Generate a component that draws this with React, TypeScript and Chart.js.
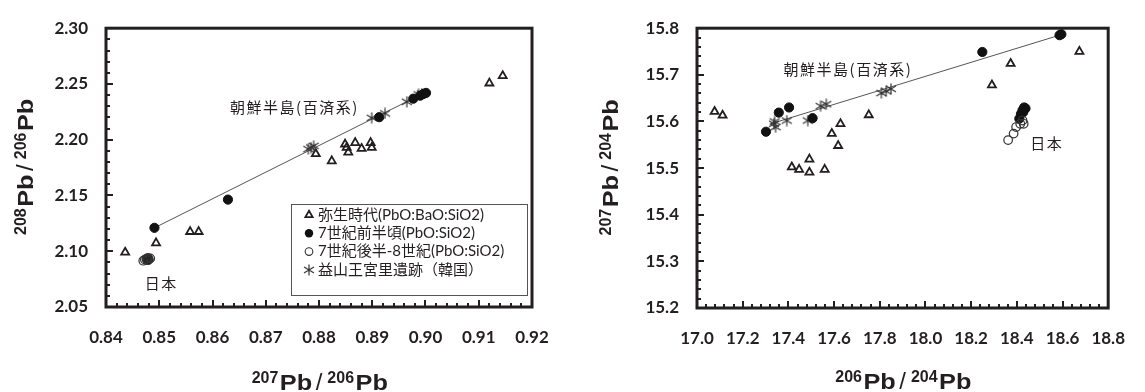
import React, { useEffect, useRef } from 'react';
import { Chart, registerables } from 'chart.js';

Chart.register(...registerables);

const INK = '#231f20';

// ---------------- Left panel: 207Pb/206Pb (x) vs 208Pb/206Pb (y)
const L_X_TICKS = [0.84, 0.85, 0.86, 0.87, 0.88, 0.89, 0.9, 0.91, 0.92];
const L_Y_TICKS = [2.05, 2.1, 2.15, 2.2, 2.25, 2.3];

const L_YAYOI_X = [0.8436, 0.8494, 0.8558, 0.8574, 0.8794, 0.8824, 0.8849, 0.8852, 0.8855, 0.8868, 0.888, 0.8897, 0.8899, 0.912, 0.9145];
const L_YAYOI_Y = [2.099, 2.1074, 2.1175, 2.1175, 2.1873, 2.1809, 2.196, 2.193, 2.1887, 2.1973, 2.1921, 2.1973, 2.193, 2.2507, 2.2573];

const L_EARLY7_X = [0.8491, 0.8629, 0.8913, 0.8977, 0.899, 0.8996, 0.9001, 0.8477, 0.848];
const L_EARLY7_Y = [2.121, 2.1463, 2.2202, 2.2368, 2.2395, 2.241, 2.242, 2.0928, 2.0925];

const L_LATE7_X = [0.847, 0.8473, 0.8476, 0.8479, 0.8483, 0.8478];
const L_LATE7_Y = [2.0915, 2.0925, 2.0933, 2.094, 2.0936, 2.092];

const L_IKSAN_X = [0.878, 0.8785, 0.879, 0.8899, 0.8924, 0.8965, 0.8987, 0.8993];
const L_IKSAN_Y = [2.1916, 2.193, 2.1945, 2.2196, 2.2236, 2.234, 2.2406, 2.2414];

const L_TREND_X = [0.8491, 0.9002];
const L_TREND_Y = [2.121, 2.243];

const L_X_TITLE = '207Pb/206Pb';
const L_Y_TITLE = '208Pb/206Pb';
const L_NOTE_TEXT = ['朝鮮半島(百済系)', '日本'];
const L_NOTE_X = [0.8633, 0.8473];
const L_NOTE_Y = [2.229, 2.0716];

// ---------------- Right panel: 206Pb/204Pb (x) vs 207Pb/204Pb (y)
const R_X_TICKS = [17.0, 17.2, 17.4, 17.6, 17.8, 18.0, 18.2, 18.4, 18.6, 18.8];
const R_Y_TICKS = [15.2, 15.3, 15.4, 15.5, 15.6, 15.7, 15.8];

const R_YAYOI_X = [17.077, 17.112, 17.415, 17.447, 17.492, 17.492, 17.559, 17.59, 17.628, 17.618, 17.752, 18.291, 18.373, 18.674];
const R_YAYOI_Y = [15.621, 15.613, 15.502, 15.497, 15.519, 15.491, 15.497, 15.574, 15.595, 15.548, 15.614, 15.678, 15.724, 15.75];

const R_EARLY7_X = [17.302, 17.358, 17.403, 17.506, 18.249, 18.587, 18.595, 18.432, 18.438, 18.425, 18.418, 18.411, 18.428];
const R_EARLY7_Y = [15.578, 15.619, 15.63, 15.607, 15.749, 15.785, 15.787, 15.63, 15.628, 15.624, 15.616, 15.606, 15.62];

const R_LATE7_X = [18.362, 18.386, 18.397, 18.415, 18.43, 18.425];
const R_LATE7_Y = [15.56, 15.574, 15.588, 15.595, 15.595, 15.602];

const R_IKSAN_X = [17.337, 17.344, 17.34, 17.393, 17.485, 17.541, 17.566, 17.807, 17.828, 17.849];
const R_IKSAN_Y = [15.595, 15.588, 15.6, 15.602, 15.602, 15.633, 15.637, 15.661, 15.665, 15.67];

const R_TREND_X = [17.323, 18.587];
const R_TREND_Y = [15.595, 15.785];

const R_X_TITLE = '206Pb/204Pb';
const R_Y_TITLE = '207Pb/204Pb';
const R_NOTE_TEXT = ['朝鮮半島(百済系)', '日本'];
const R_NOTE_X = [17.379, 18.459];
const R_NOTE_Y = [15.7125, 15.554];

const SERIES_NAMES = [
  '弥生時代(PbO:BaO:SiO2)',
  '7世紀前半頃(PbO:SiO2)',
  '7世紀後半-8世紀(PbO:SiO2)',
  '益山王宮里遺跡（韓国）',
];

// ---------------- helpers
let asteriskCanvas: HTMLCanvasElement | null = null;
function getAsterisk(): HTMLCanvasElement {
  if (asteriskCanvas) return asteriskCanvas;
  const c = document.createElement('canvas');
  c.width = 12;
  c.height = 12;
  const g = c.getContext('2d')!;
  g.strokeStyle = '#333';
  g.lineWidth = 1.2;
  g.beginPath();
  g.moveTo(6, 0.5); g.lineTo(6, 11.5);
  g.moveTo(1, 3); g.lineTo(11, 9);
  g.moveTo(1, 9); g.lineTo(11, 3);
  g.stroke();
  asteriskCanvas = c;
  return c;
}

const MAIN_FONT = 'bold 22px "Liberation Sans", Arial, sans-serif';
const SUP_FONT = 'bold 16px "Liberation Sans", Arial, sans-serif';
const SLASH_FONT = '24px "Liberation Sans", Arial, sans-serif';

function splitTitle(s: string) {
  const segs: { t: string; kind: string }[] = [];
  const re = /(\d+)|(\/)|([^\d\/]+)/g;
  let m;
  while ((m = re.exec(s))) {
    if (m[1]) segs.push({ t: m[1], kind: 'sup' });
    else if (m[2]) segs.push({ t: m[2], kind: 'slash' });
    else segs.push({ t: m[3], kind: 'main' });
  }
  return segs;
}

function drawTitle(ctx: CanvasRenderingContext2D, s: string, cx: number, cy: number, rotate: boolean) {
  const segs = splitTitle(s);
  const info = segs.map((sg) => {
    const font = sg.kind === 'sup' ? SUP_FONT : sg.kind === 'slash' ? SLASH_FONT : MAIN_FONT;
    ctx.font = font;
    const sx = sg.kind === 'main' ? 1.15 : 1;
    const pad = sg.kind === 'slash' ? 3.5 : sg.kind === 'sup' ? 1.5 : 0;
    const w = ctx.measureText(sg.t).width * sx + pad * 2;
    return { ...sg, font, sx, pad, w };
  });
  const total = info.reduce((a, b) => a + b.w, 0);
  ctx.save();
  ctx.translate(cx, cy);
  if (rotate) ctx.rotate(-Math.PI / 2);
  ctx.fillStyle = INK;
  ctx.textBaseline = 'alphabetic';
  ctx.textAlign = 'left';
  let x = -total / 2;
  for (const sg of info) {
    ctx.save();
    ctx.font = sg.font;
    ctx.translate(x + sg.pad, sg.kind === 'sup' ? -7 : 0);
    ctx.scale(sg.sx, 1);
    ctx.fillText(sg.t, 0, 0);
    ctx.restore();
    x += sg.w;
  }
  ctx.restore();
}

function drawMarker(ctx: CanvasRenderingContext2D, kind: number, x: number, y: number) {
  ctx.save();
  if (kind === 0) {
    const r = 4.2;
    ctx.strokeStyle = INK;
    ctx.lineWidth = 1.8;
    ctx.beginPath();
    ctx.moveTo(x, y - r);
    ctx.lineTo(x + r * 0.866, y + r * 0.5);
    ctx.lineTo(x - r * 0.866, y + r * 0.5);
    ctx.closePath();
    ctx.stroke();
  } else if (kind === 1) {
    ctx.fillStyle = '#111';
    ctx.beginPath();
    ctx.arc(x, y, 4.2, 0, Math.PI * 2);
    ctx.fill();
  } else if (kind === 2) {
    ctx.strokeStyle = '#333';
    ctx.lineWidth = 1.1;
    ctx.beginPath();
    ctx.arc(x, y, 3.8, 0, Math.PI * 2);
    ctx.stroke();
  } else {
    const img = getAsterisk();
    ctx.drawImage(img, x - img.width / 2, y - img.height / 2);
  }
  ctx.restore();
}

const panelPlugin = {
  id: 'panel',
  beforeDatasetsDraw(chart: any, _args: any, o: any) {
    const { ctx, chartArea: a } = chart;
    const xs = chart.scales.x;
    const ys = chart.scales.y;
    ctx.save();
    ctx.strokeStyle = INK;
    ctx.lineWidth = 2;
    ctx.beginPath();
    const nx = Math.round((xs.max - xs.min) / o.xMinor);
    for (let i = 0; i <= nx; i++) {
      const px = Math.round(xs.getPixelForValue(xs.min + i * o.xMinor));
      const len = i % 5 === 0 ? 7 : 4;
      ctx.moveTo(px, a.bottom);
      ctx.lineTo(px, a.bottom - len);
    }
    const ny = Math.round((ys.max - ys.min) / o.yMinor);
    for (let i = 0; i <= ny; i++) {
      const py = Math.round(ys.getPixelForValue(ys.min + i * o.yMinor));
      const len = i % 5 === 0 ? 7 : 4;
      ctx.moveTo(a.left, py);
      ctx.lineTo(a.left + len, py);
    }
    ctx.stroke();
    ctx.lineWidth = 3;
    ctx.strokeRect(a.left, a.top, a.right - a.left, a.bottom - a.top);
    ctx.restore();
  },
  afterDraw(chart: any, _args: any, o: any) {
    const { ctx, chartArea: a } = chart;
    const xs = chart.scales.x;
    const ys = chart.scales.y;
    drawTitle(ctx, o.xTitle, (a.left + a.right) / 2, o.xTitleY, false);
    drawTitle(ctx, o.yTitle, o.yTitleX, (a.top + a.bottom) / 2, true);
    ctx.save();
    ctx.fillStyle = INK;
    ctx.font = '15px "Noto Sans CJK JP", sans-serif';
    (ctx as any).letterSpacing = '1.5px';
    ctx.textBaseline = 'middle';
    ctx.textAlign = 'left';
    o.notes.text.forEach((t: string, i: number) => {
      ctx.fillText(t, xs.getPixelForValue(o.notes.x[i]), ys.getPixelForValue(o.notes.y[i]));
    });
    ctx.restore();
    if (o.legend) {
      const bx = a.right - 241;
      const by = a.bottom - 103;
      const bw = 236;
      const bh = 91;
      ctx.save();
      ctx.fillStyle = '#fff';
      ctx.fillRect(bx, by, bw, bh);
      ctx.strokeStyle = '#555';
      ctx.lineWidth = 1;
      ctx.strokeRect(bx + 0.5, by + 0.5, bw, bh);
      ctx.font = '15px Lato, "Noto Sans CJK JP", sans-serif';
      ctx.fillStyle = INK;
      ctx.textBaseline = 'middle';
      ctx.textAlign = 'left';
      SERIES_NAMES.forEach((name, i) => {
        const ry = by + 11 + i * 18.3;
        drawMarker(ctx, i, bx + 18, ry);
        ctx.fillText(name, bx + 27, ry);
      });
      ctx.restore();
    }
  },
};

type PanelProps = {
  ticksX: number[];
  ticksY: number[];
  decX: number;
  decY: number;
  yayoi: [number[], number[]];
  early7: [number[], number[]];
  late7: [number[], number[]];
  iksan: [number[], number[]];
  trend: [number[], number[]];
  xMinor: number;
  yMinor: number;
  xTitle: string;
  yTitle: string;
  notes: { text: string[]; x: number[]; y: number[] };
  legend: boolean;
  yAxisW: number;
  xAxisH: number;
  padTop: number;
  padRight: number;
  yTitleX: number;
  xTitleY: number;
  width: number;
  height: number;
  left: number;
};

const pts = (p: [number[], number[]]) => p[0].map((x, i) => ({ x, y: p[1][i] }));

function Panel(p: PanelProps) {
  const ref = useRef<HTMLCanvasElement | null>(null);
  useEffect(() => {
    const tickFont = { family: 'Lato, "Open Sans", sans-serif', size: 17, weight: 'bold' as const };
    const chart = new Chart(ref.current!, {
      type: 'scatter',
      data: {
        datasets: [
          {
            label: SERIES_NAMES[2],
            data: pts(p.late7),
            pointStyle: 'circle',
            pointRadius: 4.3,
            borderWidth: 1.2,
            borderColor: '#333',
            backgroundColor: 'rgba(255,255,255,0)',
          },
          {
            label: SERIES_NAMES[1],
            data: pts(p.early7),
            pointStyle: 'circle',
            pointRadius: 4.6,
            borderWidth: 1,
            borderColor: '#111',
            backgroundColor: '#111',
          },
          {
            label: SERIES_NAMES[0],
            data: pts(p.yayoi),
            pointStyle: 'triangle',
            pointRadius: 4.6,
            borderWidth: 1.8,
            borderColor: INK,
            backgroundColor: 'rgba(255,255,255,0)',
          },
          {
            label: SERIES_NAMES[3],
            data: pts(p.iksan),
            pointStyle: getAsterisk(),
            pointRadius: 6,
          },
          {
            label: 'trend',
            data: pts(p.trend),
            showLine: true,
            borderColor: '#555',
            borderWidth: 1,
            pointRadius: 0,
          },
        ],
      },
      options: {
        responsive: false,
        animation: false,
        devicePixelRatio: 1,
        layout: { padding: { left: 0, right: p.padRight, top: p.padTop, bottom: 0 } },
        plugins: {
          legend: { display: false },
          tooltip: { enabled: false },
          panel: {
            xMinor: p.xMinor,
            yMinor: p.yMinor,
            xTitle: p.xTitle,
            yTitle: p.yTitle,
            notes: p.notes,
            legend: p.legend,
            yTitleX: p.yTitleX,
            xTitleY: p.xTitleY,
          },
        } as any,
        scales: {
          x: {
            type: 'linear',
            min: p.ticksX[0],
            max: p.ticksX[p.ticksX.length - 1],
            afterBuildTicks: (s: any) => {
              s.ticks = p.ticksX.map((v) => ({ value: v }));
            },
            afterFit: (s: any) => {
              s.height = p.xAxisH;
            },
            ticks: {
              callback: (v: any) => Number(v).toFixed(p.decX),
              font: tickFont,
              color: INK,
              padding: 20,
              autoSkip: false,
              maxRotation: 0,
              minRotation: 0,
            },
            grid: { display: false, drawTicks: false },
            border: { display: false },
          },
          y: {
            type: 'linear',
            min: p.ticksY[0],
            max: p.ticksY[p.ticksY.length - 1],
            afterBuildTicks: (s: any) => {
              s.ticks = p.ticksY.map((v) => ({ value: v }));
            },
            afterFit: (s: any) => {
              s.width = p.yAxisW;
            },
            ticks: {
              callback: (v: any) => Number(v).toFixed(p.decY),
              font: tickFont,
              color: INK,
              padding: 18,
              autoSkip: false,
            },
            grid: { display: false, drawTicks: false },
            border: { display: false },
          },
        },
      },
      plugins: [panelPlugin],
    });
    return () => chart.destroy();
  }, []);
  return (
    <canvas
      ref={ref}
      width={p.width}
      height={p.height}
      style={{ position: 'absolute', left: p.left, top: 0, width: p.width, height: p.height }}
    />
  );
}

export default function App() {
  return (
    <div style={{ position: 'absolute', left: 0, top: 0, width: 1145, height: 392, background: '#fff', overflow: 'hidden' }}>
      <Panel
        ticksX={L_X_TICKS}
        ticksY={L_Y_TICKS}
        decX={2}
        decY={2}
        yayoi={[L_YAYOI_X, L_YAYOI_Y]}
        early7={[L_EARLY7_X, L_EARLY7_Y]}
        late7={[L_LATE7_X, L_LATE7_Y]}
        iksan={[L_IKSAN_X, L_IKSAN_Y]}
        trend={[L_TREND_X, L_TREND_Y]}
        xMinor={0.002}
        yMinor={0.01}
        xTitle={L_X_TITLE}
        yTitle={L_Y_TITLE}
        notes={{ text: L_NOTE_TEXT, x: L_NOTE_X, y: L_NOTE_Y }}
        legend={true}
        yAxisW={106}
        xAxisH={85}
        padTop={18}
        padRight={40}
        yTitleX={33}
        xTitleY={390}
        width={572}
        height={392}
        left={0}
      />
      <Panel
        ticksX={R_X_TICKS}
        ticksY={R_Y_TICKS}
        decX={1}
        decY={1}
        yayoi={[R_YAYOI_X, R_YAYOI_Y]}
        early7={[R_EARLY7_X, R_EARLY7_Y]}
        late7={[R_LATE7_X, R_LATE7_Y]}
        iksan={[R_IKSAN_X, R_IKSAN_Y]}
        trend={[R_TREND_X, R_TREND_Y]}
        xMinor={0.04}
        yMinor={0.02}
        xTitle={R_X_TITLE}
        yTitle={R_Y_TITLE}
        notes={{ text: R_NOTE_TEXT, x: R_NOTE_X, y: R_NOTE_Y }}
        legend={false}
        yAxisW={125}
        xAxisH={84}
        padTop={20}
        padRight={21}
        yTitleX={46}
        xTitleY={389}
        width={573}
        height={392}
        left={572}
      />
    </div>
  );
}
